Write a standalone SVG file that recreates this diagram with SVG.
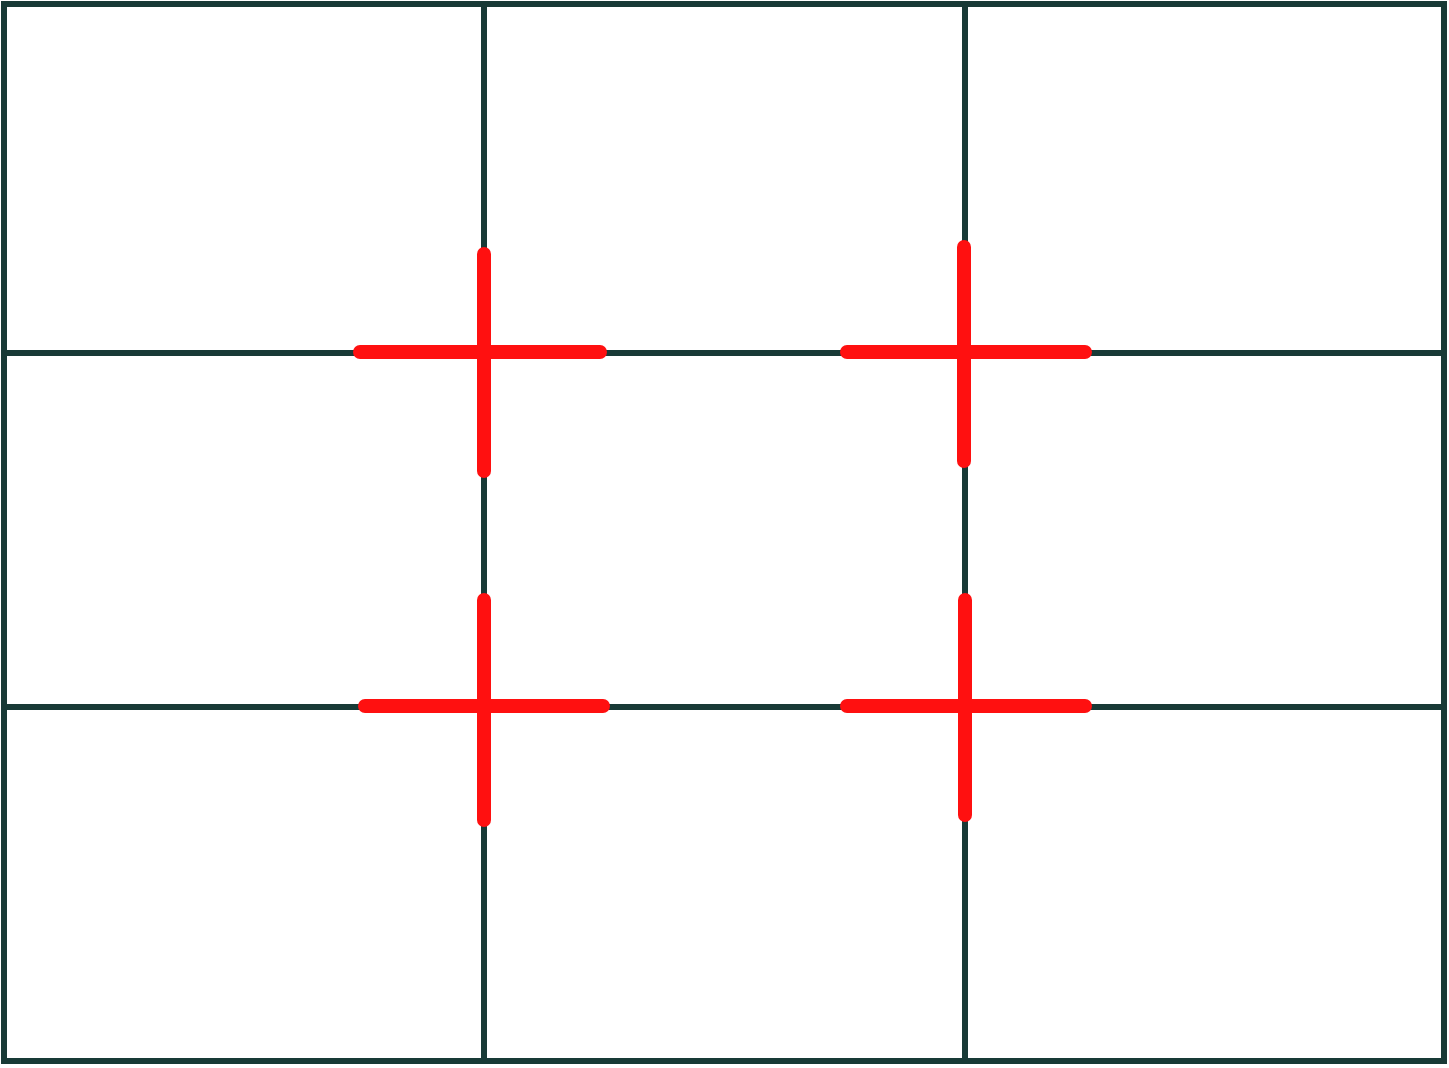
<svg xmlns="http://www.w3.org/2000/svg" width="1449" height="1068" viewBox="0 0 1449 1068">
<style>
.g{stroke:#183a36;stroke-width:6;fill:none}
.r{stroke:#ff1010;stroke-width:14;stroke-linecap:round;fill:none}
</style>
<rect width="1449" height="1068" fill="#ffffff"/>
<g id="grid">
<rect class="g" x="4" y="4" width="1440" height="1057"/>
<line class="g" x1="484" y1="4" x2="484" y2="1061"/>
<line class="g" x1="965" y1="4" x2="965" y2="1061"/>
<line class="g" x1="4" y1="353" x2="1444" y2="353"/>
<line class="g" x1="4" y1="707" x2="1444" y2="707"/>
</g>
<g id="crosses">
<line class="r" x1="484" y1="254" x2="484" y2="471"/>
<line class="r" x1="360" y1="352" x2="600" y2="352"/>
<line class="r" x1="964" y1="247" x2="964" y2="461"/>
<line class="r" x1="847" y1="352" x2="1085" y2="352"/>
<line class="r" x1="484" y1="600" x2="484" y2="820"/>
<line class="r" x1="365" y1="706" x2="603" y2="706"/>
<line class="r" x1="965" y1="600" x2="965" y2="815"/>
<line class="r" x1="847" y1="706" x2="1085" y2="706"/>
</g>
</svg>
